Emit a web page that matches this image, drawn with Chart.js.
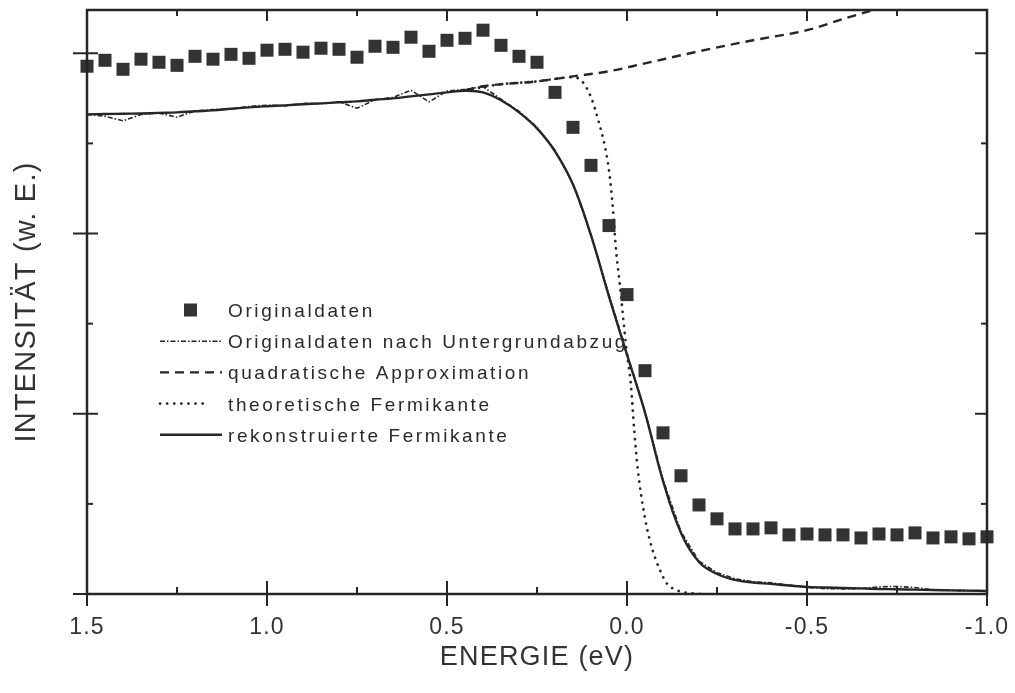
<!DOCTYPE html>
<html>
<head>
<meta charset="utf-8">
<script src="https://cdn.jsdelivr.net/npm/chart.js@4.4.0/dist/chart.umd.min.js"></script>
<style>
html, body { margin: 0; padding: 0; background: #fff; }
#wrap { width: 1015px; height: 693px; position: relative; }
</style>
</head>
<body>
<div id="wrap"><canvas id="chart"></canvas></div>
<script>
// energy grid of the measured points (eV), 0.05 steps
const energy = [1.50, 1.45, 1.40, 1.35, 1.30, 1.25, 1.20, 1.15, 1.10, 1.05,
                1.00, 0.95, 0.90, 0.85, 0.80, 0.75, 0.70, 0.65, 0.60, 0.55,
                0.50, 0.45, 0.40, 0.35, 0.30, 0.25, 0.20, 0.15, 0.10, 0.05,
                0.00, -0.05, -0.10, -0.15, -0.20, -0.25, -0.30, -0.35, -0.40, -0.45,
                -0.50, -0.55, -0.60, -0.65, -0.70, -0.75, -0.80, -0.85, -0.90, -0.95, -1.00];

// Originaldaten (squares)
const original = [2.928, 2.961, 2.911, 2.967, 2.950, 2.933, 2.983, 2.967, 2.994, 2.972,
                  3.017, 3.022, 3.006, 3.028, 3.022, 2.978, 3.039, 3.033, 3.089, 3.011,
                  3.072, 3.083, 3.128, 3.044, 2.983, 2.950, 2.783, 2.589, 2.378, 2.044,
                  1.661, 1.239, 0.894, 0.656, 0.494, 0.417, 0.361, 0.361, 0.367, 0.328,
                  0.333, 0.328, 0.328, 0.311, 0.333, 0.328, 0.339, 0.311, 0.317, 0.306, 0.317];

// Originaldaten nach Untergrundabzug (dash-dot)
const subtracted = [2.661, 2.650, 2.625, 2.660, 2.668, 2.645, 2.680, 2.688, 2.690, 2.705,
                    2.712, 2.708, 2.722, 2.720, 2.730, 2.695, 2.742, 2.755, 2.795, 2.730,
                    2.790, 2.800, 2.815, 2.745, 2.678, 2.590, 2.462, 2.276, 1.994, 1.660,
                    1.332, 1.012, 0.634, 0.345, 0.182, 0.118, 0.085, 0.068, 0.062, 0.050,
                    0.038, 0.030, 0.028, 0.030, 0.040, 0.042, 0.036, 0.024, 0.020, 0.018, 0.016];

// rekonstruierte Fermikante (solid)
const reconstructed = [2.661, 2.663, 2.664, 2.666, 2.669, 2.672, 2.678, 2.683, 2.692, 2.700,
                       2.706, 2.711, 2.717, 2.722, 2.728, 2.733, 2.742, 2.750, 2.761, 2.772,
                       2.783, 2.792, 2.783, 2.739, 2.672, 2.583, 2.456, 2.272, 1.989, 1.650,
                       1.328, 1.006, 0.628, 0.339, 0.178, 0.111, 0.078, 0.064, 0.056, 0.047,
                       0.039, 0.036, 0.033, 0.031, 0.028, 0.026, 0.024, 0.022, 0.020, 0.019, 0.017];

// quadratische Approximation (dashed)
const quadEnergy = [0.45, 0.40, 0.35, 0.25, 0.15, 0.05, -0.05, -0.20, -0.35, -0.50, -0.60, -0.70, -0.75];
const quadValues = [2.794, 2.817, 2.828, 2.844, 2.872, 2.900, 2.944, 3.011, 3.072, 3.128, 3.190, 3.250, 3.285];

// theoretische Fermikante (dotted)
const fermiEnergy = [0.45, 0.35, 0.25, 0.15, 0.125, 0.10, 0.08, 0.06, 0.05, 0.04, 0.03, 0.02,
                     0.01, 0.00, -0.01, -0.02, -0.03, -0.05, -0.07, -0.09, -0.11, -0.14, -0.17, -0.22];
const fermiValues = [2.794, 2.828, 2.844, 2.867, 2.845, 2.756, 2.63, 2.47, 2.35, 2.16, 1.90, 1.72,
                     1.52, 1.33, 1.18, 0.91, 0.69, 0.42, 0.25, 0.14, 0.06, 0.02, 0.006, 0.0];

const xTicks = [1.5, 1.0, 0.5, 0.0, -0.5, -1.0];
const xMinorTicks = [1.25, 0.75, 0.25, -0.25, -0.75];
const yTicks = [0, 1, 2, 3];
const yMinorTicks = [0.5, 1.5, 2.5];

const INK = '#262626';
const FONT = "'Liberation Sans', Arial, sans-serif";

function pts(xs, ys) {
    return xs.map((x, i) => ({ x: x, y: ys[i] }));
}

const styles = {
    original:      { color: '#333' },
    subtracted:    { dash: [5, 2, 1.5, 2], width: 1.6 },
    quad:          { dash: [9, 6], width: 2.4 },
    fermi:         { dash: [0.1, 7], width: 2.7 },
    reconstructed: { dash: [], width: 2.4 }
};

// frame with inward ticks on all four sides
const frameTicks = {
    id: 'frameTicks',
    afterDatasetsDraw(chart) {
        const { ctx, chartArea: a, scales: { x, y } } = chart;
        const line = (x1, y1, x2, y2) => {
            ctx.beginPath(); ctx.moveTo(x1, y1); ctx.lineTo(x2, y2); ctx.stroke();
        };
        ctx.save();
        ctx.strokeStyle = INK;
        ctx.lineWidth = 2.5;
        ctx.strokeRect(a.left, a.top, a.right - a.left, a.bottom - a.top);
        ctx.lineWidth = 2;
        xTicks.forEach(v => {
            const px = x.getPixelForValue(v);
            line(px, a.bottom + 12, px, a.bottom - 13);
            line(px, a.top, px, a.top + 11);
        });
        xMinorTicks.forEach(v => {
            const px = x.getPixelForValue(v);
            line(px, a.bottom, px, a.bottom - 7);
            line(px, a.top, px, a.top + 6);
        });
        yTicks.forEach(v => {
            const py = y.getPixelForValue(v);
            line(a.left - 14, py, a.left + 11, py);
            line(a.right, py, a.right - 12, py);
        });
        yMinorTicks.forEach(v => {
            const py = y.getPixelForValue(v);
            line(a.left, py, a.left + 6, py);
            line(a.right, py, a.right - 6, py);
        });
        ctx.restore();
    }
};

// legend inside the plot, drawn like the original figure
const legendBox = {
    id: 'legendBox',
    afterDraw(chart) {
        const { ctx } = chart;
        const x0 = 160, x1 = 222, textX = 228, base0 = 317, step = 31.2;
        ctx.save();
        ctx.font = '19px ' + FONT;
        ctx.letterSpacing = '2.6px';
        ctx.textBaseline = 'alphabetic';
        ctx.textAlign = 'left';
        chart.data.datasets.forEach((ds, i) => {
            const base = base0 + i * step;
            const mid = base - 7;
            if (ds.showLine === false) {
                ctx.fillStyle = styles.original.color;
                ctx.fillRect(184, mid - 6.5, 13, 13);
            } else {
                ctx.strokeStyle = INK;
                ctx.lineWidth = ds.borderWidth;
                ctx.lineCap = ds.borderCapStyle || 'butt';
                ctx.setLineDash(ds.borderDash || []);
                ctx.beginPath();
                ctx.moveTo(x0, mid);
                ctx.lineTo(ds.label.indexOf('theoretische') === 0 ? 207 : x1, mid);
                ctx.stroke();
                ctx.setLineDash([]);
            }
            ctx.fillStyle = '#2a2a2a';
            ctx.fillText(ds.label, textX, base);
        });
        ctx.restore();
    }
};

const textSpacing = {
    id: 'textSpacing',
    beforeDraw(chart) { chart.ctx.letterSpacing = '1.2px'; }
};

new Chart(document.getElementById('chart').getContext('2d'), {
    type: 'scatter',
    data: {
        datasets: [
            {
                label: 'Originaldaten',
                data: pts(energy, original),
                showLine: false,
                pointStyle: 'rect',
                pointRadius: 9.2,
                pointHoverRadius: 9.2,
                backgroundColor: styles.original.color,
                borderWidth: 0,
                clip: false,
                order: 0
            },
            {
                label: 'Originaldaten nach Untergrundabzug',
                data: pts(energy, subtracted),
                showLine: true,
                borderColor: INK,
                borderWidth: styles.subtracted.width,
                borderDash: styles.subtracted.dash,
                pointRadius: 0,
                tension: 0,
                order: 2
            },
            {
                label: 'quadratische Approximation',
                data: pts(quadEnergy, quadValues),
                showLine: true,
                borderColor: INK,
                borderWidth: styles.quad.width,
                borderDash: styles.quad.dash,
                pointRadius: 0,
                cubicInterpolationMode: 'monotone',
                order: 3
            },
            {
                label: 'theoretische Fermikante',
                data: pts(fermiEnergy, fermiValues),
                showLine: true,
                borderColor: INK,
                borderWidth: styles.fermi.width,
                borderDash: styles.fermi.dash,
                borderCapStyle: 'round',
                pointRadius: 0,
                cubicInterpolationMode: 'monotone',
                order: 4
            },
            {
                label: 'rekonstruierte Fermikante',
                data: pts(energy, reconstructed),
                showLine: true,
                borderColor: INK,
                borderWidth: styles.reconstructed.width,
                pointRadius: 0,
                tension: 0.4,
                order: 1
            }
        ]
    },
    plugins: [textSpacing, frameTicks, legendBox],
    options: {
        responsive: true,
        maintainAspectRatio: false,
        animation: false,
        layout: { padding: { top: 10, right: 28, left: 0, bottom: 0 } },
        plugins: {
            legend: { display: false },
            tooltip: { enabled: false }
        },
        scales: {
            x: {
                type: 'linear',
                min: -1.0,
                max: 1.5,
                reverse: true,
                afterFit: s => { s.height = 99; s.paddingLeft = 0; s.paddingRight = 0; },
                afterBuildTicks: s => { s.ticks = xTicks.map(v => ({ value: v })); },
                grid: { display: false, drawTicks: false },
                border: { display: false },
                ticks: {
                    padding: 20,
                    color: '#333',
                    font: { family: FONT, size: 23 },
                    maxRotation: 0,
                    callback: v => Number(v).toFixed(1)
                },
                title: {
                    display: true,
                    text: 'ENERGIE (eV)',
                    color: '#333',
                    font: { family: FONT, size: 27 },
                    padding: { top: 0, bottom: 19 }
                }
            },
            y: {
                type: 'linear',
                min: 0,
                max: 3.24,
                afterFit: s => { s.width = 87; s.paddingTop = 0; s.paddingBottom = 0; },
                grid: { display: false, drawTicks: false },
                border: { display: false },
                ticks: { display: false },
                title: {
                    display: true,
                    text: 'INTENSITÄT (w. E.)',
                    color: '#333',
                    font: { family: FONT, size: 29 },
                    padding: { top: 10, bottom: 0 }
                }
            }
        }
    }
});
</script>
</body>
</html>
